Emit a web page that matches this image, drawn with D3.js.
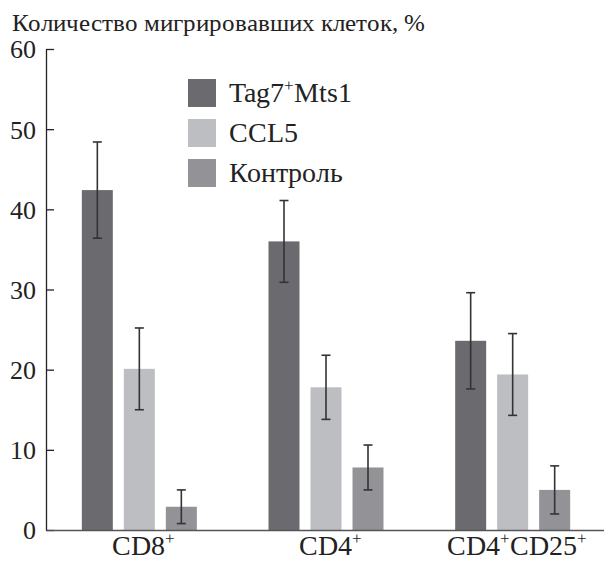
<!DOCTYPE html>
<html>
<head>
<meta charset="utf-8">
<script src="https://cdn.jsdelivr.net/npm/d3@7"></script>
<style>
  @font-face { font-family: "ChartSerif"; src: local("Liberation Serif"), local("LiberationSerif"), local("Times New Roman"), local("Tinos"); }
  body { margin: 0; background: #fff; }
  text.serif { font-family: "ChartSerif", "Liberation Serif", "Times New Roman", "Tinos", serif; }
</style>
</head>
<body>
<svg id="fig" width="604" height="561"></svg>
<script>
const groups = ['CD8', 'CD4', 'CD4CD25'];
const groupLabels = [['CD8', '+'], ['CD4', '+'], ['CD4', '+', 'CD25', '+']];
const series = ['Tag7Mts1', 'CCL5', 'Control'];
const seriesLabels = [['Tag7', '+', 'Mts1'], ['CCL5'], ['Контроль']];
const seriesColors = ['#6b6b6f', '#bdbec1', '#939397'];
const tag7Values = [42.4, 36.0, 23.6];
const tag7Errors = [6.0, 5.1, 6.0];
const ccl5Values = [20.1, 17.8, 19.4];
const ccl5Errors = [5.1, 4.0, 5.1];
const controlValues = [2.9, 7.8, 5.0];
const controlErrors = [2.1, 2.8, 3.0];
const yTicks = [0, 10, 20, 30, 40, 50, 60];

const values = [tag7Values, ccl5Values, controlValues];
const errors = [tag7Errors, ccl5Errors, controlErrors];

const svg = d3.select('#fig');
const plotLeft = 46, plotRight = 606, plotTop = 49, plotBottom = 530;

const y = d3.scaleLinear().domain([0, 60]).range([plotBottom, plotTop]);
const x0 = d3.scaleBand().domain(groups).range([plotLeft, plotRight]).padding(0);
const step = x0.bandwidth();
const x1 = d3.scaleBand().domain(series)
  .range([step / 2 - 57.5, step / 2 + 57.5])
  .paddingInner(0.262).paddingOuter(0);

function serif(sel) {
  return sel.attr('class', 'serif').attr('font-family', null);
}

// text with superscript pluses
function addParts(text, parts, size) {
  const shift = Math.round(size * 0.4);
  let raised = false;
  parts.forEach(p => {
    if (p === '+') {
      text.append('tspan').attr('font-size', size * 0.62).attr('dy', -shift).text('+');
      raised = true;
    } else {
      const ts = text.append('tspan').text(p);
      if (raised) ts.attr('dy', shift);
      raised = false;
    }
  });
}

// title
serif(svg.append('text'))
  .attr('x', 12)
  .attr('y', 31)
  .attr('font-size', 25)
  .attr('fill', '#222')
  .text('Количество мигрировавших клеток, %');

// bars
const data = [];
groups.forEach((g, gi) => {
  series.forEach((s, si) => {
    data.push({ g, s, si, v: values[si][gi], e: errors[si][gi] });
  });
});

svg.append('g').selectAll('rect')
  .data(data)
  .join('rect')
  .attr('x', d => x0(d.g) + x1(d.s))
  .attr('y', d => y(d.v))
  .attr('width', x1.bandwidth())
  .attr('height', d => y(0) - y(d.v))
  .attr('fill', d => seriesColors[d.si]);

// error bars
const errG = svg.append('g').attr('stroke', '#333').attr('stroke-width', 1.6);
data.forEach(d => {
  const cx = x0(d.g) + x1(d.s) + x1.bandwidth() / 2;
  errG.append('line')
    .attr('x1', cx).attr('x2', cx)
    .attr('y1', y(d.v + d.e)).attr('y2', y(Math.max(0, d.v - d.e)));
  [d.v + d.e, d.v - d.e].forEach(t => {
    errG.append('line')
      .attr('x1', cx - 4.5).attr('x2', cx + 4.5)
      .attr('y1', y(t)).attr('y2', y(t));
  });
});

// y axis
const yAxis = svg.append('g')
  .attr('transform', `translate(${plotLeft},0)`)
  .call(d3.axisLeft(y).tickValues(yTicks).tickSizeInner(-8).tickSizeOuter(0).tickPadding(10));
yAxis.attr('font-family', null).attr('font-size', null);
yAxis.select('.domain').attr('stroke', '#222').attr('stroke-width', 1.3);
yAxis.selectAll('.tick line').attr('stroke', '#222').attr('stroke-width', 1.3);
serif(yAxis.selectAll('.tick text'))
  .attr('font-size', 26)
  .attr('fill', '#222')
  .attr('dy', '0.34em');

// x axis
const xAxis = svg.append('g')
  .attr('transform', `translate(0,${plotBottom})`)
  .call(d3.axisBottom(x0).tickSize(0).tickFormat(''));
xAxis.attr('font-family', null).attr('font-size', null);
xAxis.select('.domain').attr('stroke', '#555').attr('stroke-width', 1.6);
xAxis.selectAll('.tick').each(function (d, i) {
  const t = serif(d3.select(this).select('text'))
    .attr('font-size', 28)
    .attr('fill', '#222')
    .attr('y', 25)
    .attr('dy', null)
    .attr('x', 4);
  addParts(t, groupLabels[i], 28);
});

// legend
const legend = svg.append('g').attr('transform', 'translate(188,79)');
series.forEach((s, i) => {
  const row = legend.append('g').attr('transform', `translate(0,${i * 40})`);
  row.append('rect')
    .attr('width', 28).attr('height', 28)
    .attr('fill', seriesColors[i]);
  const t = serif(row.append('text'))
    .attr('x', 41).attr('y', 23)
    .attr('font-size', 28)
    .attr('fill', '#222');
  addParts(t, seriesLabels[i], 28);
});
</script>
</body>
</html>
